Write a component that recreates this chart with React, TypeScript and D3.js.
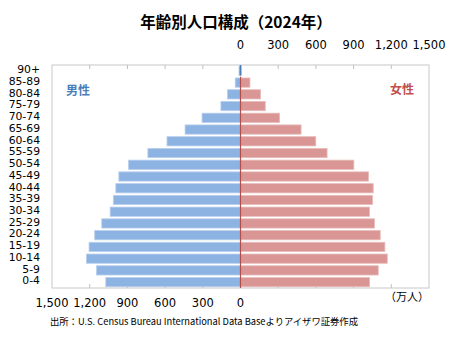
import React from "react";
import * as d3 from "d3";

const categories = ["0-4","5-9","10-14","15-19","20-24","25-29","30-34","35-39","40-44","45-49","50-54","55-59","60-64","65-69","70-74","75-79","80-84","85-89","90+"];
const male = [1072,1146,1226,1205,1160,1104,1037,1012,992,968,891,737,585,441,306,156,104,42,12];
const female = [1027,1096,1168,1149,1112,1067,1027,1051,1056,1019,902,689,599,482,311,197,160,75,6];
const ticks = [0,300,600,900,1200,1500];

const W = 450, H = 337;
const L = 52, R = 429, T = 65, B = 288;
const X0 = 240.5;
const FONT = "'DejaVu Sans', Verdana, sans-serif";
const JFONT = "'Noto Sans CJK JP', 'DejaVu Sans', sans-serif";

export default function App() {
  const xM = d3.scaleLinear().domain([0, 1500]).range([X0, L]);
  const xF = d3.scaleLinear().domain([0, 1500]).range([X0, R]);
  const y = d3.scaleBand<string>().domain([...categories].reverse()).range([T, B]).paddingInner(0.21).paddingOuter(0.105);
  const fmt = d3.format(",");
  const step = y.step();
  const innerTicks = ticks.filter(t => t > 0 && t < 1500);
  const topCat = categories[categories.length - 1];
  const secondCat = categories[categories.length - 2];
  const redTop = (y(secondCat) as number) - (step - y.bandwidth()) / 2;

  return (
    <svg width={W} height={H} style={{ position: "absolute", left: 0, top: 0, background: "#fff" }}>
      <text x={236} y={28} textAnchor="middle" fontFamily={JFONT} fontWeight="bold" fontSize={15.5} fill="#000">年齢別人口構成（2024年）</text>

      {/* frame */}
      <rect x={L} y={T} width={R - L} height={B - T} fill="none" stroke="#c8c8c8" strokeWidth={1} />
      {innerTicks.map(t => (
        <g key={"t" + t} stroke="#c0c0c0" strokeWidth={1}>
          <line x1={xM(t)} x2={xM(t)} y1={T} y2={T + 4} />
          <line x1={xF(t)} x2={xF(t)} y1={T} y2={T + 4} />
          <line x1={xM(t)} x2={xM(t)} y1={B} y2={B - 4} />
          <line x1={xF(t)} x2={xF(t)} y1={B} y2={B - 4} />
        </g>
      ))}

      {/* bars */}
      {categories.map((c, i) => (
        <g key={c}>
          <rect x={xM(male[i])} y={y(c)} width={X0 - xM(male[i])} height={y.bandwidth()} fill="#8db3e2" stroke="#b9d0ee" strokeWidth={0.8} />
          <rect x={X0} y={y(c)} width={xF(female[i]) - X0} height={y.bandwidth()} fill="#d99694" stroke="#e8bcbb" strokeWidth={0.8} />
        </g>
      ))}

      {/* zero lines */}
      <line x1={X0} x2={X0} y1={T} y2={(y(topCat) as number) + y.bandwidth()} stroke="#4a7ebb" strokeWidth={1.5} />
      <line x1={X0} x2={X0} y1={redTop} y2={B} stroke="#b0504d" strokeWidth={1.2} />

      {/* category labels */}
      {categories.map(c => (
        <text key={"l" + c} x={40} y={(y(c) as number) + y.bandwidth() / 2 - 1.5} dy="0.35em" textAnchor="end" fontFamily={FONT} fontSize={10.8} fill="#000">{c}</text>
      ))}

      {/* top axis (female) */}
      {ticks.map(t => (
        <text key={"f" + t} x={xF(t)} y={49} textAnchor="middle" fontFamily={FONT} fontSize={11.5} fill="#000">{fmt(t)}</text>
      ))}
      {/* bottom axis (male) */}
      {ticks.map(t => (
        <text key={"m" + t} x={xM(t)} y={307} textAnchor="middle" fontFamily={FONT} fontSize={11.5} fill="#000">{fmt(t)}</text>
      ))}
      <text x={R} y={301} textAnchor="end" fontFamily={JFONT} fontSize={11} fill="#000">（万人）</text>

      <text x={78} y={95} textAnchor="middle" fontFamily={JFONT} fontWeight="bold" fontSize={12} fill="#4a7ebb">男性</text>
      <text x={402} y={94} textAnchor="middle" fontFamily={JFONT} fontWeight="bold" fontSize={12} fill="#c0504d">女性</text>

      <text x={50} y={325} fontFamily={JFONT} fontSize={9.5} fill="#000" textLength={308} lengthAdjust="spacingAndGlyphs">出所：U.S. Census Bureau International Data Baseよりアイザワ証券作成</text>
    </svg>
  );
}
